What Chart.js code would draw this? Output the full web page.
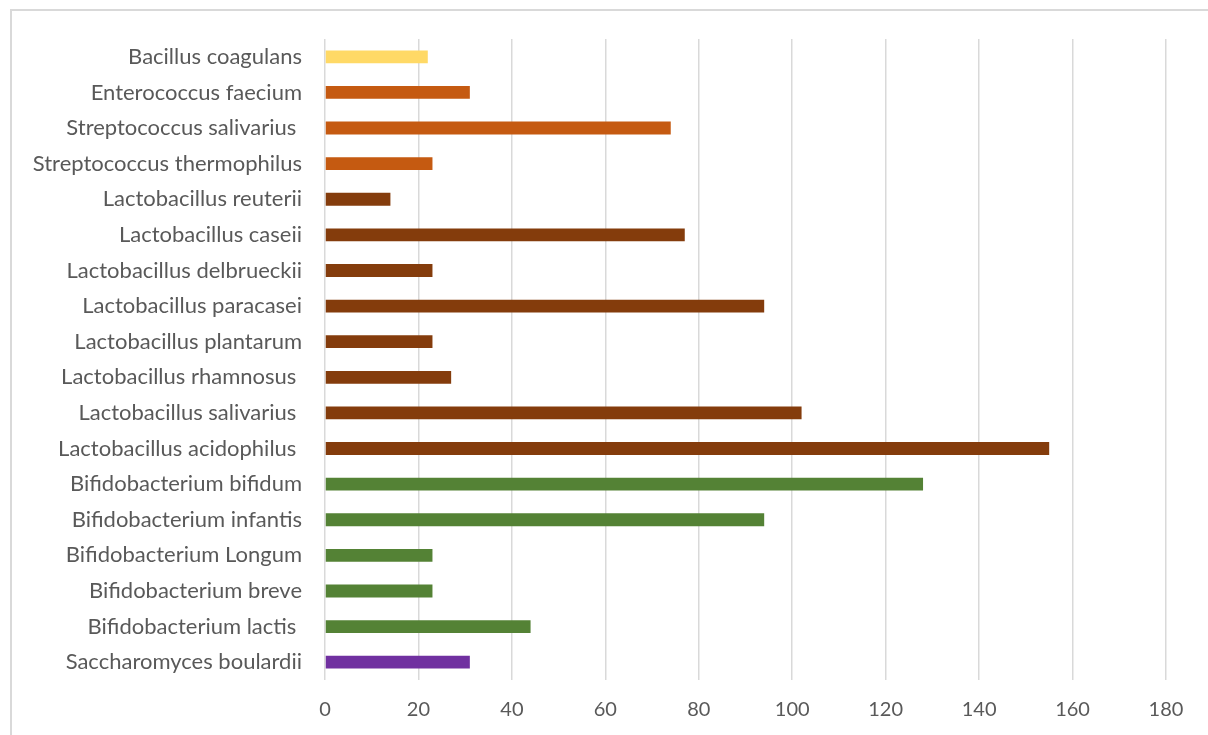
<!DOCTYPE html>
<html>
<head>
<meta charset="utf-8">
<title>Probiotic strains</title>
<script src="https://cdn.jsdelivr.net/npm/chart.js@4"></script>
<style>
  html, body { margin: 0; padding: 0; background: #fff; overflow: hidden; }
  #wrap { position: relative; width: 1208px; height: 735px; }
  #frame {
    position: absolute; left: 10px; top: 9px; width: 1400px; height: 900px;
    border: 2px solid #d9d9d9; pointer-events: none;
  }
  canvas { position: absolute; left: 0; top: 0; }
</style>
</head>
<body>
<div id="wrap">
  <canvas id="chart" width="1208" height="735"></canvas>
  <div id="frame"></div>
</div>
<script>
// strains, listed top to bottom (a few names carry a trailing space in the source sheet)
const strains = [
  'Bacillus coagulans',
  'Enterococcus faecium',
  'Streptococcus salivarius ',
  'Streptococcus thermophilus',
  'Lactobacillus reuterii',
  'Lactobacillus caseii',
  'Lactobacillus delbrueckii',
  'Lactobacillus paracasei',
  'Lactobacillus plantarum',
  'Lactobacillus rhamnosus ',
  'Lactobacillus salivarius ',
  'Lactobacillus acidophilus ',
  'Bifidobacterium bifidum',
  'Bifidobacterium infantis',
  'Bifidobacterium Longum',
  'Bifidobacterium breve',
  'Bifidobacterium lactis ',
  'Saccharomyces boulardii',
];

const counts = [22, 31, 74, 23, 14, 77, 23, 94, 23, 27, 102, 155, 128, 94, 23, 23, 44, 31];

// genus group of each strain, picks the bar colour
const groups = [
  'bacillus', 'strep', 'strep', 'strep',
  'lacto', 'lacto', 'lacto', 'lacto', 'lacto', 'lacto', 'lacto', 'lacto',
  'bifido', 'bifido', 'bifido', 'bifido', 'bifido',
  'yeast',
];

const xTicks = { min: 0, max: 180, step: 20 };

const groupColors = {
  bacillus: '#ffd966',
  strep: '#c55a11',
  lacto: '#843c0c',
  bifido: '#548235',
  yeast: '#7030a0',
};

const fontFamily = 'Lato, "Open Sans", sans-serif';
const labelColor = '#595959';

new Chart(document.getElementById('chart'), {
  type: 'bar',
  data: {
    labels: strains,
    datasets: [
      {
        data: counts,
        backgroundColor: groups.map((g) => groupColors[g]),
        categoryPercentage: 1,
        barPercentage: 0.36,
      },
    ],
  },
  options: {
    indexAxis: 'y',
    responsive: false,
    animation: false,
    layout: { padding: { top: 39, right: 42, left: 0, bottom: 0 } },
    plugins: {
      legend: { display: false },
      tooltip: { enabled: false },
    },
    scales: {
      x: {
        min: xTicks.min,
        max: xTicks.max,
        ticks: {
          stepSize: xTicks.step,
          color: labelColor,
          font: { family: fontFamily, size: 20 },
          padding: 18,
        },
        grid: { color: '#d9d9d9', lineWidth: 1.5, drawTicks: false },
        border: { display: false },
        afterFit: (scale) => { scale.height = 55; },
      },
      y: {
        ticks: {
          color: labelColor,
          font: { family: fontFamily, size: 22 },
          padding: 23,
        },
        grid: { display: false, drawTicks: false },
        border: { display: false },
        afterFit: (scale) => { scale.width = 325; },
      },
    },
  },
});
</script>
</body>
</html>
